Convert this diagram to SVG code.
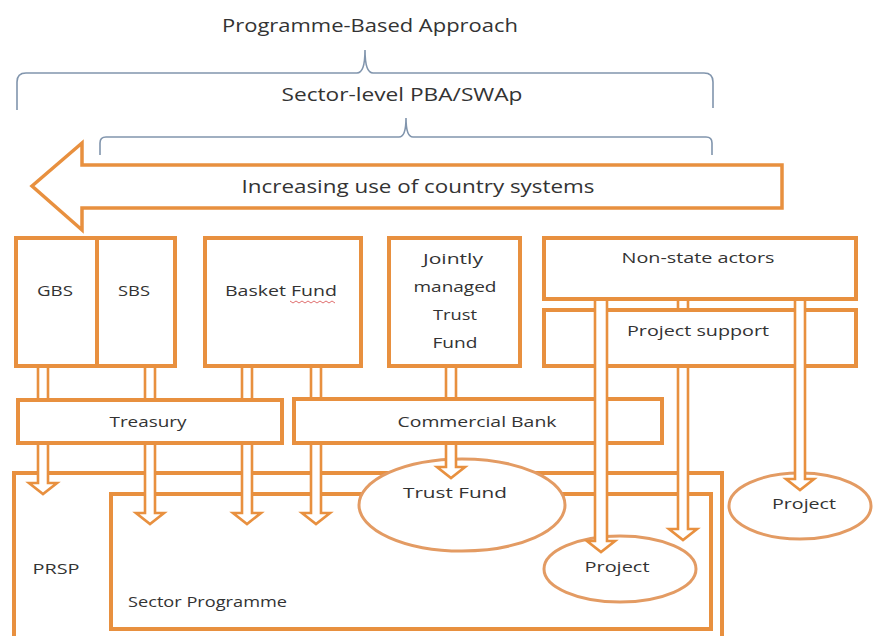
<svg xmlns="http://www.w3.org/2000/svg" width="873" height="636" viewBox="0 0 873 636">
  <style>
    .box { fill: #ffffff; stroke: #E8903F; stroke-width: 4; }
    .open { fill: none; stroke: #E8903F; stroke-width: 4; }
    .ell { fill: #ffffff; stroke: #E39B63; stroke-width: 3; }
    .arr { fill: #ffffff; stroke: #E8903F; stroke-width: 2.6; stroke-linejoin: miter; }
    .link { fill: none; stroke: #E8903F; stroke-width: 2.6; }
    .brace { fill: none; stroke: #8195AD; stroke-width: 1.6; }
    .big { fill: #ffffff; stroke: #E8903F; stroke-width: 3.5; stroke-linejoin: miter; }
    text { font-family: "Open Sans", "Liberation Sans", sans-serif; fill: #333333; lengthAdjust: spacingAndGlyphs; }
    .h { font-size: 19px; }
    .n { font-size: 15px; }
    .c { text-anchor: middle; }
  </style>

  <rect x="0" y="0" width="873" height="636" fill="#ffffff"/>

  <!-- scope braces -->
  <g id="scope">
    <text class="h c" x="370" y="32" textLength="296" lengthAdjust="spacingAndGlyphs">Programme-Based Approach</text>
    <path class="brace" d="M17,110 V82 Q17,73 26,73 H357 Q365,73 365,50 Q365,73 373,73 H704 Q713,73 713,82 V108"/>
    <text class="h c" x="402" y="101" textLength="241" lengthAdjust="spacingAndGlyphs">Sector-level PBA/SWAp</text>
    <path class="brace" d="M100,155 V143 Q100,137 106,137 H399 Q406,137 406,118 Q406,137 413,137 H706 Q712,137 712,143 V155"/>
  </g>

  <!-- direction arrow -->
  <g id="country-systems">
    <path class="big" d="M32,186 L82,143 V165 H782 V208 H82 V230 Z"/>
    <text class="h c" x="418" y="193" textLength="353" lengthAdjust="spacingAndGlyphs">Increasing use of country systems</text>
  </g>

  <!-- programme frames -->
  <g id="prsp">
    <rect class="box" x="14" y="473" width="708" height="175"/>
    <text class="n c" x="56" y="574" textLength="47" lengthAdjust="spacingAndGlyphs">PRSP</text>
  </g>
  <g id="sector-programme">
    <rect class="open" x="111" y="494" width="600" height="135"/>
    <text class="n" x="128" y="607" textLength="159" lengthAdjust="spacingAndGlyphs">Sector Programme</text>
  </g>

  <!-- funding sources -->
  <g id="gbs">
    <rect class="box" x="16" y="238" width="81" height="128"/>
    <text class="n c" x="55" y="296" textLength="36" lengthAdjust="spacingAndGlyphs">GBS</text>
  </g>
  <g id="sbs">
    <rect class="box" x="97" y="238" width="78" height="128"/>
    <text class="n c" x="134" y="296" textLength="32" lengthAdjust="spacingAndGlyphs">SBS</text>
  </g>
  <g id="basket-fund">
    <rect class="box" x="205" y="238" width="156" height="128"/>
    <text class="n c" x="281" y="296" textLength="112" lengthAdjust="spacingAndGlyphs">Basket Fund</text>
    <path d="M290,301 l3,2 l3,-2 l3,2 l3,-2 l3,2 l3,-2 l3,2 l3,-2 l3,2 l3,-2 l3,2 l3,-2 l3,2 l3,-2 l3,2" fill="none" stroke="#E07070" stroke-width="1"/>
  </g>
  <g id="jointly-managed-trust-fund">
    <rect class="box" x="389" y="238" width="131" height="128"/>
    <text class="n c" x="453" y="264" textLength="60" lengthAdjust="spacingAndGlyphs">Jointly</text>
    <text class="n c" x="455" y="292" textLength="83" lengthAdjust="spacingAndGlyphs">managed</text>
    <text class="n c" x="455" y="320" textLength="44" lengthAdjust="spacingAndGlyphs">Trust</text>
    <text class="n c" x="455" y="348" textLength="45" lengthAdjust="spacingAndGlyphs">Fund</text>
  </g>
  <g id="non-state-actors">
    <rect class="box" x="544" y="238" width="312" height="61"/>
    <text class="n c" x="698" y="263" textLength="153" lengthAdjust="spacingAndGlyphs">Non-state actors</text>
  </g>
  <g id="project-support">
    <rect class="box" x="544" y="310" width="312" height="56"/>
    <text class="n c" x="698" y="336" textLength="142" lengthAdjust="spacingAndGlyphs">Project support</text>
  </g>

  <!-- channels -->
  <g id="treasury">
    <rect class="box" x="18" y="400" width="264" height="43"/>
    <text class="n c" x="148" y="427" textLength="77" lengthAdjust="spacingAndGlyphs">Treasury</text>
  </g>
  <g id="commercial-bank">
    <rect class="box" x="294" y="399" width="368" height="44"/>
    <text class="n c" x="477" y="427" textLength="159" lengthAdjust="spacingAndGlyphs">Commercial Bank</text>
  </g>

  <!-- destinations -->
  <g id="trust-fund">
    <ellipse class="ell" cx="462" cy="505" rx="103" ry="46"/>
    <text class="n c" x="455" y="498" textLength="104" lengthAdjust="spacingAndGlyphs">Trust Fund</text>
  </g>
  <g id="project-in-programme">
    <ellipse class="ell" cx="620" cy="569" rx="76" ry="33"/>
    <text class="n c" x="617" y="572" textLength="65" lengthAdjust="spacingAndGlyphs">Project</text>
  </g>
  <g id="project-outside">
    <ellipse class="ell" cx="800" cy="506" rx="71" ry="33"/>
    <text class="n c" x="804" y="509" textLength="64" lengthAdjust="spacingAndGlyphs">Project</text>
  </g>

  <!-- fund flows -->
  <g id="connectors">
    <!-- sources to channels -->
    <path class="link" d="M38,368 V398 M48,368 V398"/>
    <path class="link" d="M145,368 V398 M155,368 V398"/>
    <path class="link" d="M242,368 V398 M252,368 V398"/>
    <path class="link" d="M311,368 V397 M321,368 V397"/>
    <path class="link" d="M446,368 V397 M456,368 V397"/>
    <path class="link" d="M678,301 V308 M688,301 V308"/>
    <!-- channels into programmes -->
    <path class="arr" d="M38,445 V483 H29 L43,494 L57,483 H48 V445"/>
    <path class="arr" d="M145,445 V513 H136 L150,524 L164,513 H155 V445"/>
    <path class="arr" d="M242,445 V513 H233 L247,524 L261,513 H252 V445"/>
    <path class="arr" d="M311,445 V513 H302 L316,524 L330,513 H321 V445"/>
    <path class="arr" d="M446,445 V467 H437 L451,478 L465,467 H456 V445"/>
    <!-- non-state support to projects -->
    <path class="arr" d="M678,368 V529 H669 L683,540 L697,529 H688 V368"/>
    <path class="arr" d="M595,301 V541 H587 L601,552 L615,541 H607 V301"/>
    <path class="arr" d="M795,301 V479 H786 L800,490 L814,479 H805 V301"/>
  </g>
</svg>
